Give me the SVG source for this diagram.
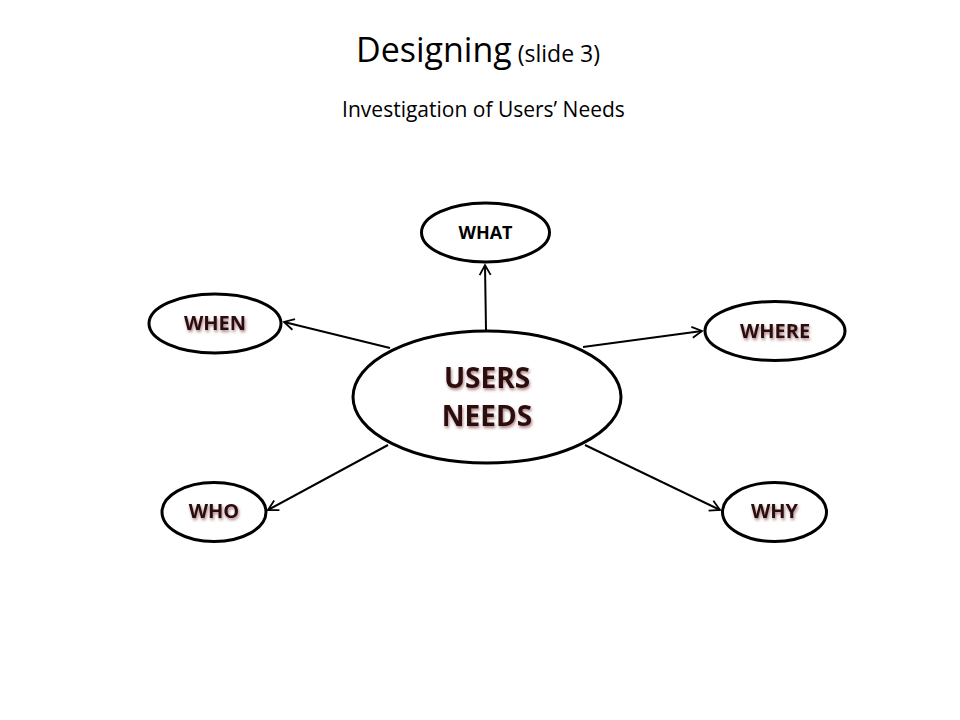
<svg xmlns="http://www.w3.org/2000/svg" width="960" height="720" viewBox="0 0 960 720">
<style>
.t{font-family:"Open Sans","Noto Sans",sans-serif;fill:#000;text-anchor:middle}
.node{fill:#fff;stroke:#000;stroke-width:3}
.lbl{font-family:"Open Sans","Noto Sans",sans-serif;font-weight:bold;text-anchor:middle;fill:#2a0a10;filter:url(#sh)}
.conn{stroke:#000;stroke-width:2;fill:none;marker-end:url(#arr)}
</style>
<defs>
<marker id="arr" markerUnits="userSpaceOnUse" markerWidth="14" markerHeight="14" refX="11" refY="6" orient="auto" viewBox="0 0 14 12">
<path d="M1,0.5 L11,6 L1,11.5" fill="none" stroke="#000" stroke-width="1.8"/>
</marker>
<filter id="sh" x="-20%" y="-30%" width="150%" height="180%">
<feDropShadow dx="1" dy="2" stdDeviation="1.4" flood-color="#7a3a40" flood-opacity="0.65"/>
</filter>
</defs>
<rect width="960" height="720" fill="#fff"/>
<text class="t" x="478" y="62"><tspan font-size="34">Designing</tspan><tspan font-size="23"> (slide 3)</tspan></text>
<text class="t" x="483.5" y="117" font-size="21">Investigation of Users’ Needs</text>
<g id="connectors">
<line class="conn" x1="486" y1="330" x2="485" y2="265"/>
<line class="conn" x1="390" y1="348" x2="284" y2="322"/>
<line class="conn" x1="583" y1="347" x2="702" y2="331"/>
<line class="conn" x1="585" y1="445" x2="720" y2="510"/>
<line class="conn" x1="388" y1="445" x2="268" y2="510"/>
</g>
<g id="users-needs">
<ellipse class="node" cx="487" cy="397" rx="134" ry="66"/>
<text class="lbl" x="487" y="388" font-size="28">USERS</text>
<text class="lbl" x="487" y="426" font-size="28">NEEDS</text>
</g>
<g id="what">
<ellipse class="node" cx="485.5" cy="232.5" rx="64" ry="29.5"/>
<text x="485.5" y="239" font-size="18" font-family="Open Sans, Noto Sans, sans-serif" font-weight="bold" text-anchor="middle" fill="#000">WHAT</text>
</g>
<g id="when">
<ellipse class="node" cx="215" cy="323.5" rx="66" ry="29.5"/>
<text class="lbl" x="215" y="330" font-size="20">WHEN</text>
</g>
<g id="where">
<ellipse class="node" cx="775" cy="331" rx="70" ry="29.5"/>
<text class="lbl" x="775" y="338" font-size="20">WHERE</text>
</g>
<g id="who">
<ellipse class="node" cx="214" cy="512" rx="52" ry="29.5"/>
<text class="lbl" x="214" y="518" font-size="20">WHO</text>
</g>
<g id="why">
<ellipse class="node" cx="774.5" cy="512" rx="52" ry="29.5"/>
<text class="lbl" x="774.5" y="518" font-size="20">WHY</text>
</g>
</svg>
